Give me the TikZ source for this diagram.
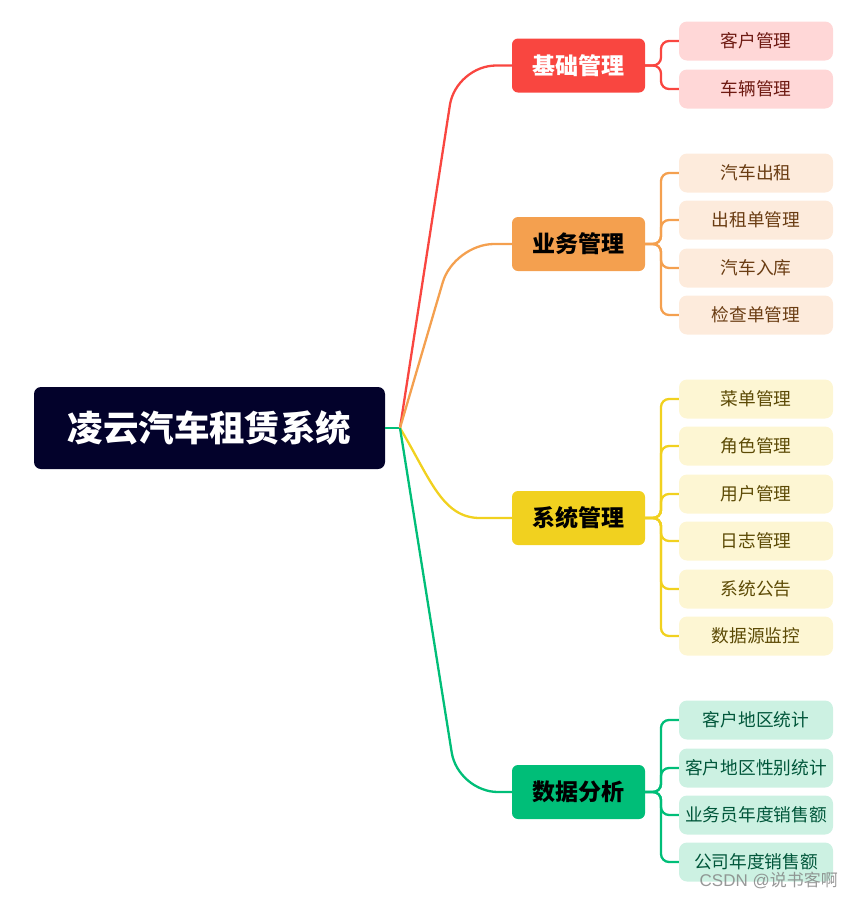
\documentclass[tikz,border=0pt]{standalone}
\usepackage{fontspec}
\setmainfont{Noto Sans CJK SC}
\newfontfamily\wmfont{Liberation Sans}
\newfontfamily\cjkwm{Noto Sans CJK SC}
\definecolor{rootc}{HTML}{03022B}
\definecolor{cred}{HTML}{F94640}
\definecolor{corange}{HTML}{F4A04F}
\definecolor{cyellow}{HTML}{F1D11F}
\definecolor{cgreen}{HTML}{00BE78}
\definecolor{lred}{HTML}{FFD7D7}
\definecolor{lorange}{HTML}{FDEBDC}
\definecolor{lyellow}{HTML}{FDF6D3}
\definecolor{lgreen}{HTML}{CCF1E2}
\definecolor{tred}{HTML}{6E1A12}
\definecolor{torange}{HTML}{6A3C12}
\definecolor{tyellow}{HTML}{5C4A05}
\definecolor{tgreen}{HTML}{00563A}
\tikzset{
  rootbox/.style={fill=rootc, rounded corners=7pt, minimum width=351pt, minimum height=82pt, inner sep=0pt, text=white, font=\fontsize{35.5}{40}\selectfont\bfseries},
  lonebox/.style={fill=#1, rounded corners=6pt, minimum width=133pt, minimum height=54pt, inner sep=0pt, font=\fontsize{23}{26}\selectfont\bfseries},
  ltwobox/.style={fill=#1, rounded corners=8pt, minimum width=154pt, minimum height=39pt, inner sep=0pt, font=\fontsize{17.7}{20}\selectfont},
  mainline/.style={draw=#1, line width=2.3pt, rounded corners=40pt},
  subline/.style={draw=#1, line width=2.3pt, rounded corners=8pt},
}
\begin{document}
\begin{tikzpicture}[x=1pt,y=-1pt]
\useasboundingbox (0,0) rectangle (853,898);
% root
\node[rootbox] (root) at (209.5,428) {凌云汽车租赁系统};
\coordinate (o) at (400,428);
% level 1
\node[lonebox=cred, text=white] (a) at (578.5,65.5) {基础管理};
\node[lonebox=corange, text=black] (b) at (578.5,244) {业务管理};
\node[lonebox=cyellow, text=black] (c) at (578.5,518) {系统管理};
\node[lonebox=cgreen, text=black] (d) at (578.5,792) {数据分析};
% level 2
\node[ltwobox=lred, text=tred] (a1) at (756,41) {客户管理};
\node[ltwobox=lred, text=tred] (a2) at (756,89) {车辆管理};
\node[ltwobox=lorange, text=torange] (b1) at (756,173) {汽车出租};
\node[ltwobox=lorange, text=torange] (b2) at (756,220) {出租单管理};
\node[ltwobox=lorange, text=torange] (b3) at (756,268) {汽车入库};
\node[ltwobox=lorange, text=torange] (b4) at (756,315) {检查单管理};
\node[ltwobox=lyellow, text=tyellow] (c1) at (756,399) {菜单管理};
\node[ltwobox=lyellow, text=tyellow] (c2) at (756,446) {角色管理};
\node[ltwobox=lyellow, text=tyellow] (c3) at (756,494) {用户管理};
\node[ltwobox=lyellow, text=tyellow] (c4) at (756,541) {日志管理};
\node[ltwobox=lyellow, text=tyellow] (c5) at (756,589) {系统公告};
\node[ltwobox=lyellow, text=tyellow] (c6) at (756,636) {数据源监控};
\node[ltwobox=lgreen, text=tgreen] (d1) at (756,720) {客户地区统计};
\node[ltwobox=lgreen, text=tgreen] (d2) at (756,768) {客户地区性别统计};
\node[ltwobox=lgreen, text=tgreen] (d3) at (756,815) {业务员年度销售额};
\node[ltwobox=lgreen, text=tgreen] (d4) at (756,862) {公司年度销售额};
% main connectors
\draw[mainline=cgreen, rounded corners=0pt] (root.east) -- (o);
\draw[mainline=cred] (o) -- (456,65.5) -- (a.west);
\draw[mainline=corange] (o) -- (454,244) -- (b.west);
\draw[draw=cyellow, line width=2.3pt] (o) .. controls (430,478) and (442,518) .. (480,518) -- (c.west);
\draw[mainline=cgreen] (o) -- (458,792) -- (d.west);
% sub connectors
\foreach \p/\k in {a/a1,a/a2} \draw[subline=cred] (\p.east) -- (661,65.5) |- (\k.west);
\foreach \p/\k in {b/b1,b/b2,b/b3,b/b4} \draw[subline=corange] (\p.east) -- (661,244) |- (\k.west);
\foreach \p/\k in {c/c1,c/c2,c/c3,c/c4,c/c5,c/c6} \draw[subline=cyellow] (\p.east) -- (661,518) |- (\k.west);
\foreach \p/\k in {d/d1,d/d2,d/d3,d/d4} \draw[subline=cgreen] (\p.east) -- (661,792) |- (\k.west);
% watermark
\node[text=gray, opacity=0.8, anchor=east, inner sep=0pt, font=\fontsize{17}{20}\selectfont] (wm) at (838,880) {\wmfont CSDN @\cjkwm 说书客啊};
\end{tikzpicture}
\end{document}
